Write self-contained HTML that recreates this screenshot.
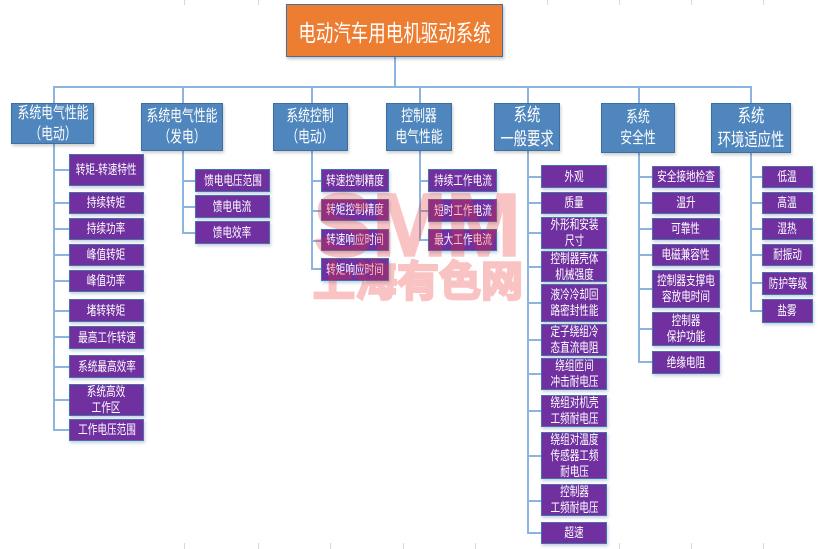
<!DOCTYPE html>
<html><head><meta charset="utf-8"><style>
html,body{margin:0;padding:0;background:#fff;}
body{width:821px;height:549px;position:relative;overflow:hidden;font-family:"Liberation Sans","Noto Sans CJK SC",sans-serif;}
.b{position:absolute;box-sizing:border-box;display:flex;align-items:center;justify-content:center;text-align:center;color:#fff;white-space:nowrap;}
.b span{display:inline-block;transform:scaleX(.74);}
.o{background:#ed7d31;border:1.5px solid #41719c;box-shadow:1px 2px 3px rgba(0,0,0,.25);}
.u{background:#4f86be;border:1.5px solid #3f6f9f;box-shadow:1px 2px 3px rgba(0,0,0,.2);font-size:16px;line-height:21px;}
.p{background:#7030a0;border:1.5px solid #4a72a6;box-shadow:1px 2px 3px rgba(90,120,170,.35);font-size:13px;line-height:16px;}
.l{position:absolute;background:#8db4e0;}
.g{position:absolute;width:1px;background:#d8d8d8;}
.wmg{position:absolute;left:0;top:0;width:821px;height:549px;opacity:.28;pointer-events:none;}
.wm{position:absolute;color:rgb(235,45,45);font-weight:bold;white-space:nowrap;-webkit-text-stroke-color:rgb(235,45,45);}
</style></head><body>
<!-- faint grid lines -->
<div class="g" style="left:184px;top:0;height:5px"></div>
<div class="g" style="left:258px;top:0;height:5px"></div>
<div class="g" style="left:547px;top:0;height:5px"></div>
<div class="g" style="left:619px;top:0;height:5px"></div>
<div class="g" style="left:691px;top:0;height:5px"></div>
<div class="g" style="left:763px;top:0;height:5px"></div>
<div class="g" style="left:184px;top:543px;height:6px"></div>
<div class="g" style="left:258px;top:543px;height:6px"></div>
<div class="g" style="left:330px;top:543px;height:6px"></div>
<div class="g" style="left:403px;top:543px;height:6px"></div>
<div class="g" style="left:475px;top:543px;height:6px"></div>
<div class="g" style="left:619px;top:543px;height:6px"></div>
<div class="g" style="left:691px;top:543px;height:6px"></div>
<div class="g" style="left:763px;top:543px;height:6px"></div>

<!-- top connectors -->
<div class="l" style="left:394px;top:56px;width:2px;height:32px"></div>
<div class="l" style="left:53px;top:86px;width:699px;height:2px"></div>
<div class="l" style="left:53px;top:86px;width:2px;height:18px"></div>
<div class="l" style="left:182px;top:86px;width:2px;height:18px"></div>
<div class="l" style="left:311px;top:86px;width:2px;height:18px"></div>
<div class="l" style="left:419px;top:86px;width:2px;height:18px"></div>
<div class="l" style="left:527px;top:86px;width:2px;height:18px"></div>
<div class="l" style="left:638px;top:86px;width:2px;height:18px"></div>
<div class="l" style="left:750px;top:86px;width:2px;height:18px"></div>

<!-- column verticals -->
<div class="l" style="left:53px;top:144px;width:2px;height:287px"></div>
<div class="l" style="left:182px;top:151px;width:2px;height:83px"></div>
<div class="l" style="left:311px;top:151px;width:2px;height:119px"></div>
<div class="l" style="left:419px;top:151px;width:2px;height:90px"></div>
<div class="l" style="left:527px;top:151px;width:2px;height:383px"></div>
<div class="l" style="left:638px;top:153px;width:2px;height:210px"></div>
<div class="l" style="left:750px;top:153px;width:2px;height:159px"></div>

<!-- col1 horizontals -->
<div class="l" style="left:53px;top:169px;width:16px;height:2px"></div>
<div class="l" style="left:53px;top:202px;width:16px;height:2px"></div>
<div class="l" style="left:53px;top:228px;width:16px;height:2px"></div>
<div class="l" style="left:53px;top:254px;width:16px;height:2px"></div>
<div class="l" style="left:53px;top:280px;width:16px;height:2px"></div>
<div class="l" style="left:53px;top:310px;width:16px;height:2px"></div>
<div class="l" style="left:53px;top:336px;width:16px;height:2px"></div>
<div class="l" style="left:53px;top:366px;width:16px;height:2px"></div>
<div class="l" style="left:53px;top:399px;width:16px;height:2px"></div>
<div class="l" style="left:53px;top:429px;width:16px;height:2px"></div>
<!-- col2 -->
<div class="l" style="left:182px;top:180px;width:13px;height:2px"></div>
<div class="l" style="left:182px;top:206px;width:13px;height:2px"></div>
<div class="l" style="left:182px;top:232px;width:13px;height:2px"></div>
<!-- col3 -->
<div class="l" style="left:311px;top:180px;width:10px;height:2px"></div>
<div class="l" style="left:311px;top:210px;width:10px;height:2px"></div>
<div class="l" style="left:311px;top:240px;width:10px;height:2px"></div>
<div class="l" style="left:311px;top:268px;width:10px;height:2px"></div>
<!-- col4 -->
<div class="l" style="left:419px;top:180px;width:9px;height:2px"></div>
<div class="l" style="left:419px;top:210px;width:9px;height:2px"></div>
<div class="l" style="left:419px;top:239px;width:9px;height:2px"></div>
<!-- col5 -->
<div class="l" style="left:527px;top:176px;width:14px;height:2px"></div>
<div class="l" style="left:527px;top:202px;width:14px;height:2px"></div>
<div class="l" style="left:527px;top:232px;width:14px;height:2px"></div>
<div class="l" style="left:527px;top:266px;width:14px;height:2px"></div>
<div class="l" style="left:527px;top:302px;width:14px;height:2px"></div>
<div class="l" style="left:527px;top:339px;width:14px;height:2px"></div>
<div class="l" style="left:527px;top:373px;width:14px;height:2px"></div>
<div class="l" style="left:527px;top:410px;width:14px;height:2px"></div>
<div class="l" style="left:527px;top:455px;width:14px;height:2px"></div>
<div class="l" style="left:527px;top:500px;width:14px;height:2px"></div>
<div class="l" style="left:527px;top:532px;width:14px;height:2px"></div>
<!-- col6 -->
<div class="l" style="left:638px;top:176px;width:14px;height:2px"></div>
<div class="l" style="left:638px;top:202px;width:14px;height:2px"></div>
<div class="l" style="left:638px;top:228px;width:14px;height:2px"></div>
<div class="l" style="left:638px;top:254px;width:14px;height:2px"></div>
<div class="l" style="left:638px;top:288px;width:14px;height:2px"></div>
<div class="l" style="left:638px;top:328px;width:14px;height:2px"></div>
<div class="l" style="left:638px;top:361px;width:14px;height:2px"></div>
<!-- col7 -->
<div class="l" style="left:750px;top:176px;width:12px;height:2px"></div>
<div class="l" style="left:750px;top:202px;width:12px;height:2px"></div>
<div class="l" style="left:750px;top:228px;width:12px;height:2px"></div>
<div class="l" style="left:750px;top:254px;width:12px;height:2px"></div>
<div class="l" style="left:750px;top:282px;width:12px;height:2px"></div>
<div class="l" style="left:750px;top:310px;width:12px;height:2px"></div>

<!-- title -->
<div class="b o" style="left:286px;top:4px;width:217px;height:53px;font-size:23px;"><span style="transform:scaleX(.76)">电动汽车用电机驱动系统</span></div>

<!-- level 1 -->
<div class="b u" style="left:11px;top:103px;width:83px;height:41px;"><span>系统电气性能<br>（电动）</span></div>
<div class="b u" style="left:141px;top:103px;width:82px;height:48px;"><span>系统电气性能<br>（发电）</span></div>
<div class="b u" style="left:273px;top:103px;width:75px;height:48px;"><span>系统控制<br>（电动）</span></div>
<div class="b u" style="left:386px;top:103px;width:66px;height:48px;"><span>控制器<br>电气性能</span></div>
<div class="b u" style="left:494px;top:103px;width:66px;height:48px;font-size:18px;line-height:24px;"><span>系统<br>一般要求</span></div>
<div class="b u" style="left:601px;top:103px;width:74px;height:50px;"><span>系统<br>安全性</span></div>
<div class="b u" style="left:711px;top:103px;width:80px;height:50px;font-size:18px;line-height:24px;"><span>系统<br>环境适应性</span></div>

<!-- col1 -->
<div class="b p" style="left:69px;top:154px;width:75px;height:32px;"><span>转矩-转速特性</span></div>
<div class="b p" style="left:69px;top:192px;width:75px;height:22px;"><span>持续转矩</span></div>
<div class="b p" style="left:69px;top:218px;width:75px;height:22px;"><span>持续功率</span></div>
<div class="b p" style="left:69px;top:244px;width:75px;height:22px;"><span>峰值转矩</span></div>
<div class="b p" style="left:69px;top:270px;width:75px;height:22px;"><span>峰值功率</span></div>
<div class="b p" style="left:69px;top:299px;width:75px;height:23px;"><span>堵转转矩</span></div>
<div class="b p" style="left:69px;top:326px;width:75px;height:23px;"><span>最高工作转速</span></div>
<div class="b p" style="left:69px;top:355px;width:75px;height:23px;"><span>系统最高效率</span></div>
<div class="b p" style="left:69px;top:384px;width:75px;height:32px;"><span>系统高效<br>工作区</span></div>
<div class="b p" style="left:69px;top:419px;width:75px;height:22px;"><span>工作电压范围</span></div>

<!-- col2 -->
<div class="b p" style="left:195px;top:169px;width:75px;height:23px;"><span>馈电电压范围</span></div>
<div class="b p" style="left:195px;top:195px;width:75px;height:23px;"><span>馈电电流</span></div>
<div class="b p" style="left:195px;top:221px;width:75px;height:23px;"><span>馈电效率</span></div>

<!-- col3 -->
<div class="b p" style="left:321px;top:169px;width:68px;height:23px;"><span>转速控制精度</span></div>
<div class="b p" style="left:321px;top:199px;width:68px;height:22px;"><span>转矩控制精度</span></div>
<div class="b p" style="left:321px;top:229px;width:68px;height:22px;"><span>转速响应时间</span></div>
<div class="b p" style="left:321px;top:258px;width:68px;height:23px;"><span>转矩响应时间</span></div>

<!-- col4 -->
<div class="b p" style="left:428px;top:169px;width:69px;height:23px;"><span>持续工作电流</span></div>
<div class="b p" style="left:428px;top:199px;width:69px;height:23px;"><span>短时工作电流</span></div>
<div class="b p" style="left:428px;top:229px;width:69px;height:22px;"><span>最大工作电流</span></div>

<!-- col5 -->
<div class="b p" style="left:541px;top:165px;width:66px;height:23px;"><span>外观</span></div>
<div class="b p" style="left:541px;top:192px;width:66px;height:22px;"><span>质量</span></div>
<div class="b p" style="left:541px;top:217px;width:66px;height:32px;"><span>外形和安装<br>尺寸</span></div>
<div class="b p" style="left:541px;top:251px;width:66px;height:31px;"><span>控制器壳体<br>机械强度</span></div>
<div class="b p" style="left:541px;top:284px;width:66px;height:38px;"><span>液冷冷却回<br>路密封性能</span></div>
<div class="b p" style="left:541px;top:324px;width:66px;height:32px;"><span>定子绕组冷<br>态直流电阻</span></div>
<div class="b p" style="left:541px;top:358px;width:66px;height:32px;"><span>绕组匝间<br>冲击耐电压</span></div>
<div class="b p" style="left:541px;top:395px;width:66px;height:32px;"><span>绕组对机壳<br>工频耐电压</span></div>
<div class="b p" style="left:541px;top:432px;width:66px;height:47px;"><span>绕组对温度<br>传感器工频<br>耐电压</span></div>
<div class="b p" style="left:541px;top:484px;width:66px;height:32px;"><span>控制器<br>工频耐电压</span></div>
<div class="b p" style="left:541px;top:522px;width:66px;height:22px;"><span>超速</span></div>

<!-- col6 -->
<div class="b p" style="left:652px;top:166px;width:68px;height:22px;"><span>安全接地检查</span></div>
<div class="b p" style="left:652px;top:192px;width:68px;height:22px;"><span>温升</span></div>
<div class="b p" style="left:652px;top:218px;width:68px;height:22px;"><span>可靠性</span></div>
<div class="b p" style="left:652px;top:244px;width:68px;height:22px;"><span>电磁兼容性</span></div>
<div class="b p" style="left:652px;top:270px;width:68px;height:38px;"><span>控制器支撑电<br>容放电时间</span></div>
<div class="b p" style="left:652px;top:312px;width:68px;height:34px;"><span>控制器<br>保护功能</span></div>
<div class="b p" style="left:652px;top:351px;width:68px;height:23px;"><span>绝缘电阻</span></div>

<!-- col7 -->
<div class="b p" style="left:762px;top:166px;width:51px;height:22px;"><span>低温</span></div>
<div class="b p" style="left:762px;top:192px;width:51px;height:22px;"><span>高温</span></div>
<div class="b p" style="left:762px;top:218px;width:51px;height:22px;"><span>湿热</span></div>
<div class="b p" style="left:762px;top:244px;width:51px;height:22px;"><span>耐振动</span></div>
<div class="b p" style="left:762px;top:272px;width:51px;height:23px;"><span>防护等级</span></div>
<div class="b p" style="left:762px;top:299px;width:51px;height:24px;"><span>盐雾</span></div>

<!-- watermark -->
<div class="wmg">
<div class="wm" style="left:313px;top:181px;font-family:'Liberation Sans',sans-serif;font-size:90px;line-height:90px;letter-spacing:-1px;-webkit-text-stroke-width:1.5px;">SMM</div>
<div class="wm" style="left:313px;top:258px;font-family:'Liberation Sans','Noto Sans CJK SC',sans-serif;font-size:42px;line-height:48px;-webkit-text-stroke-width:2.5px;">上海有色网</div>
</div>
</body></html>
